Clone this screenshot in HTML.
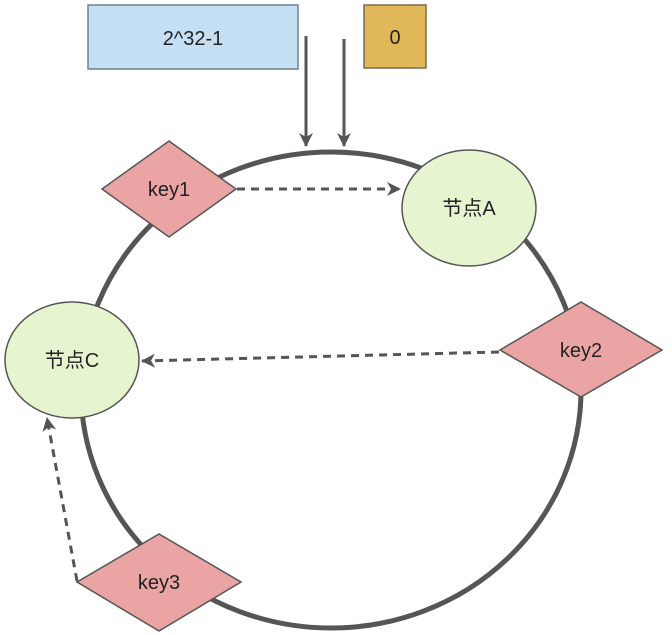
<!DOCTYPE html>
<html><head><meta charset="utf-8"><style>
html,body{margin:0;padding:0;background:#fff;}
svg{display:block;}
text{font-family:"Liberation Sans","Noto Sans CJK SC",sans-serif;font-size:20px;fill:#222;}
</style></head><body>
<svg width="672" height="635" viewBox="0 0 672 635" xmlns="http://www.w3.org/2000/svg">
<defs>
<marker id="ah" markerWidth="10" markerHeight="10" refX="9" refY="5" orient="auto" markerUnits="userSpaceOnUse">
<path d="M0,0 L10,5 L0,10 L3,5 Z" fill="#555"/>
</marker>
<marker id="ah2" markerWidth="14" markerHeight="14" refX="13" refY="7" orient="auto" markerUnits="userSpaceOnUse">
<path d="M0,0 L14,7 L0,14 L4,7 Z" fill="#555"/>
</marker>
</defs>
<ellipse cx="331" cy="390" rx="250" ry="238" fill="none" stroke="#555" stroke-width="5"/>
<rect x="88" y="5" width="210" height="64" fill="#c5e0f4" stroke="#6f7f8f" stroke-width="1.5"/>
<text x="193" y="45" text-anchor="middle">2^32-1</text>
<rect x="364" y="5" width="62" height="63" fill="#e0b85a" stroke="#7a6a4a" stroke-width="1.5"/>
<text x="395" y="44" text-anchor="middle">0</text>
<line x1="306" y1="36" x2="306" y2="146" stroke="#555" stroke-width="3" marker-end="url(#ah2)"/>
<line x1="344" y1="39" x2="344" y2="146" stroke="#555" stroke-width="3" marker-end="url(#ah2)"/>
<polygon points="102,189 169,141 236,189 169,237" fill="#eba4a4" stroke="#555" stroke-width="1.5"/>
<text x="169" y="196" text-anchor="middle">key1</text>
<line x1="237" y1="189" x2="400" y2="189" stroke="#555" stroke-width="3" stroke-dasharray="8,6" marker-end="url(#ah2)"/>
<ellipse cx="469" cy="208" rx="67" ry="58" fill="#e6f5d0" stroke="#555" stroke-width="1.5"/>
<text x="469" y="215" text-anchor="middle">节点A</text>
<ellipse cx="72" cy="360" rx="67" ry="58" fill="#e6f5d0" stroke="#555" stroke-width="1.5"/>
<text x="72" y="367" text-anchor="middle">节点C</text>
<polygon points="500,350 581,302 662,350 581,397" fill="#eba4a4" stroke="#555" stroke-width="1.5"/>
<text x="581" y="357" text-anchor="middle">key2</text>
<line x1="499" y1="352" x2="142" y2="361" stroke="#555" stroke-width="3" stroke-dasharray="8,6" marker-end="url(#ah2)"/>
<polygon points="77,582 159,534 241,582 159,631" fill="#eba4a4" stroke="#555" stroke-width="1.5"/>
<text x="159" y="589" text-anchor="middle">key3</text>
<polyline points="77,581 47,418" fill="none" stroke="#555" stroke-width="3" stroke-dasharray="8,6" marker-end="url(#ah2)"/>
</svg>
</body></html>
